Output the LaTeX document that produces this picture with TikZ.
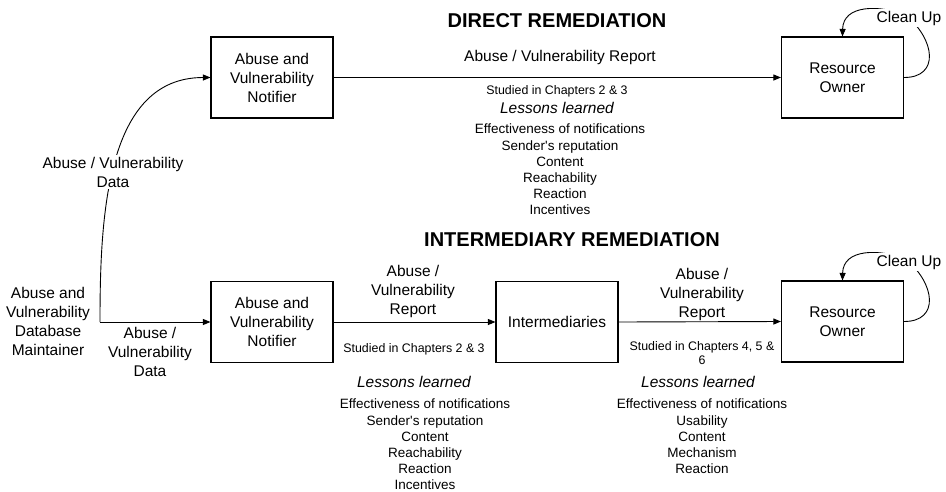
\documentclass[tikz,border=0pt]{standalone}
\usepackage{fontspec}
\setmainfont{Liberation Sans}[Ligatures=TeXOff]
\usetikzlibrary{arrows.meta,calc}
\begin{document}
\begin{tikzpicture}[x=1pt,y=-1pt,
  lw/.style={line width=1.1pt},
  box/.style={draw,lw,minimum width=122pt,minimum height=81pt,align=center,inner sep=0pt,font=\fontsize{15.5}{19}\selectfont},
  arr/.style={line width=0.9pt,-{Triangle[length=7.5pt,width=6pt]}},
  txt/.style={align=center,inner sep=1pt,font=\fontsize{15.5}{19}\selectfont},
  small/.style={align=center,inner sep=1pt,font=\fontsize{12.4}{14}\selectfont},
  lesson/.style={align=center,inner sep=1pt,font=\fontsize{15.5}{19}\selectfont\itshape},
  lst/.style={align=center,inner sep=1pt,font=\fontsize{13.5}{16.2}\selectfont},
  ttl/.style={inner sep=0pt,font=\fontsize{20}{22}\selectfont\bfseries},
  lab/.style={txt,fill=white,inner sep=2pt}]
\fill[white] (0,0) rectangle (946,491);
\useasboundingbox (0,0) rectangle (946,491);

% titles
\node[ttl] (t1) at (557,21) {DIRECT REMEDIATION};
\node[ttl] (t2) at (572,240) {INTERMEDIARY REMEDIATION};

% boxes
\node[box] (n1) at (272,77.5) {Abuse and\\Vulnerability\\Notifier};
\node[box] (ro1) at (842.5,77.5) {Resource\\Owner};
\node[box] (n2) at (272,322) {Abuse and\\Vulnerability\\Notifier};
\node[box] (im) at (557,322) {Intermediaries};
\node[box] (ro2) at (842.5,321.5) {Resource\\Owner};

% maintainer
\node[txt] (dm) at (48,321.5) {Abuse and\\Vulnerability\\Database\\Maintainer};
\coordinate (m) at (100,322);

% connectors
\draw[arr] (m) to[out=90,in=180] (n1.west);
\draw[arr] (m) -- (n2.west);
\draw[arr] (n1.east) -- (ro1.west);
\draw[arr] (n2.east) -- (im.west);
\draw[arr] (im.east) -- (ro2.west);

% clean-up loops
\foreach \r in {ro1,ro2}{
  \draw[arr] (\r.east) .. controls ($(\r.east)+(36,0)$) and ($(\r.east)+(31,-38)$) ..
    ($(\r.east)+(2,-62)$) .. controls ($(\r.north)+(37.5,-32)$) and ($(\r.north)+(0.5,-32)$) .. (\r.north);
}
\node[lab] (cu1) at (909,18) {Clean Up};
\node[lab] (cu2) at (909,262) {Clean Up};

% labels
\node[lab] (ld1) at (113,172) {Abuse / Vulnerability\\Data};
\node[txt] (ld2) at (150,352) {Abuse /\\Vulnerability\\Data};
\node[txt] (lr1) at (560,57) {Abuse / Vulnerability Report};
\node[txt] (lr2) at (413,291) {Abuse /\\Vulnerability\\Report};
\node[txt] (lr3) at (702,294) {Abuse /\\Vulnerability\\Report};

% top study
\node[small] (s1) at (557,91) {Studied in Chapters 2 \& 3};
\node[lesson] (l1) at (557,108) {Lessons learned};
\node[lst,anchor=north] (x1) at (560,123) {Effectiveness of notifications\\Sender's reputation\\Content\\Reachability\\Reaction\\Incentives};

% bottom left study
\node[small] (s2) at (414,349) {Studied in Chapters 2 \& 3};
\node[lesson] (l2) at (414,382) {Lessons learned};
\node[lst,anchor=north] (x2) at (425,398) {Effectiveness of notifications\\Sender's reputation\\Content\\Reachability\\Reaction\\Incentives};

% bottom right study
\node[small] (s3) at (702,353) {Studied in Chapters 4, 5 \&\\6};
\node[lesson] (l3) at (698,382) {Lessons learned};
\node[lst,anchor=north] (x3) at (702,398) {Effectiveness of notifications\\Usability\\Content\\Mechanism\\Reaction};
\end{tikzpicture}
\end{document}
